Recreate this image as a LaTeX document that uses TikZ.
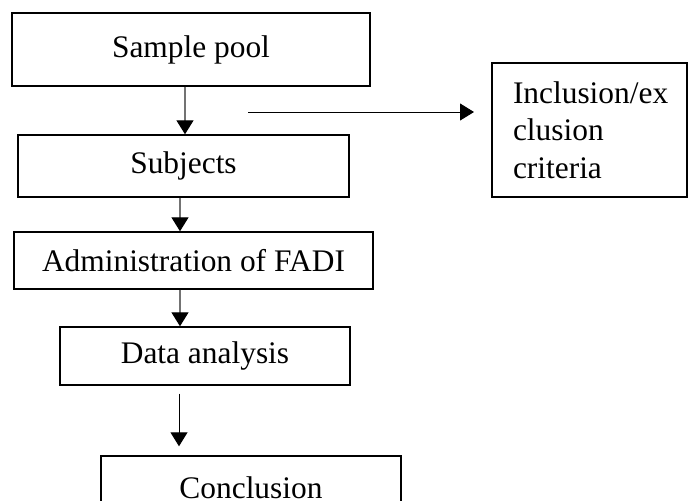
\documentclass[tikz,border=0pt]{standalone}
\usepackage{fontspec}
\setmainfont{Liberation Serif}
\usetikzlibrary{arrows.meta}
\begin{document}
\begin{tikzpicture}[x=1pt,y=-1pt,
  box/.style={draw=black,line width=1.4pt,inner sep=0pt,font=\fontsize{31.4}{37.5}\selectfont},
  garrow/.style={draw=black!55,line width=1.2pt,-{Triangle[width=17pt,length=14pt,fill=black,color=black]}},
  barrow/.style={draw=black,line width=1pt,-{Triangle[width=17pt,length=14pt]}}]
\clip (0,0) rectangle (689,501);
\fill[white] (0,0) rectangle (689,501);
\node[box,minimum width=358pt,minimum height=73pt] (sp) at (191,49.5) {Sample pool};
\node[box,minimum width=331pt,minimum height=62pt] (sub) at (183.5,166) {Subjects};
\node[box,minimum width=359pt,minimum height=57pt] (adm) at (193.5,260.5) {Administration of FADI};
\node[box,minimum width=290pt,minimum height=58pt] (dat) at (205,356) {Data analysis};
\node[box,minimum width=300pt,minimum height=64pt] (con) at (251,488) {Conclusion};
\node[box,minimum width=195pt,minimum height=134pt,text width=153pt,align=left] (inc) at (589.5,130) {Inclusion/ex\\clusion\\criteria};
\coordinate (hs) at (248,112);
\coordinate (he) at (474,112);
\coordinate (a1) at (185,0);
\coordinate (a2) at (180,0);
\coordinate (a4) at (179,0);
\draw[garrow] (sp.south -| a1) -- (sub.north -| a1);
\draw[garrow] (sub.south -| a2) -- (adm.north -| a2);
\draw[garrow] (adm.south -| a2) -- (dat.north -| a2);
\draw[barrow,shorten <=8pt,shorten >=9pt] (dat.south -| a4) -- (con.north -| a4);
\draw[barrow] (hs) -- (he);
\end{tikzpicture}
\end{document}
